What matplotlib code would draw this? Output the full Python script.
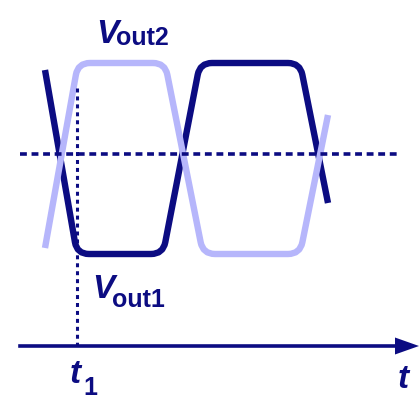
import matplotlib.pyplot as plt
import numpy as np
from matplotlib.path import Path
from matplotlib.patches import PathPatch, FancyArrow

# waveform knots (time position, level) in drawing units
vout1_t = [45, 77, 163, 200, 300, 328]
vout1_v = [70, 254, 254, 63, 63, 203]
vout2_t = [45, 78, 165, 203, 300, 328]
vout2_v = [248, 63, 63, 254, 254, 115]

mid_level = 154
t1 = 77
axis_level = 346

navy = '#0c0c82'
light = '#b6b6fb'


def rounded_path(xs, ys, r=12):
    pts = np.column_stack([xs, ys]).astype(float)
    verts = [pts[0]]
    codes = [Path.MOVETO]
    for i in range(1, len(pts) - 1):
        p, a, b = pts[i], pts[i - 1], pts[i + 1]
        ua = (a - p) / np.linalg.norm(a - p)
        ub = (b - p) / np.linalg.norm(b - p)
        verts += [p + r * ua, p, p + r * ub]
        codes += [Path.LINETO, Path.CURVE3, Path.CURVE3]
    verts.append(pts[-1])
    codes.append(Path.LINETO)
    return Path(verts, codes)


fig = plt.figure(figsize=(4.19, 3.97), dpi=100)
ax = fig.add_axes([0, 0, 1, 1])
ax.set_xlim(0, 419)
ax.set_ylim(397, 0)
ax.axis('off')

# reference lines
ax.plot([20, 400], [mid_level, mid_level], color=navy, lw=2.6,
        dashes=(1.9, 1.3), solid_capstyle='butt')
ax.plot([t1, t1], [88, axis_level], color=navy, lw=2.2,
        dashes=(1.3, 1.3), solid_capstyle='butt')

# outputs
ax.add_patch(PathPatch(rounded_path(vout1_t, vout1_v), fill=False,
                       edgecolor=navy, lw=4.6, capstyle='butt', joinstyle='round'))
ax.add_patch(PathPatch(rounded_path(vout2_t, vout2_v), fill=False,
                       edgecolor=light, lw=4.6, capstyle='butt', joinstyle='round'))

# time axis
ax.plot([20, 398], [axis_level, axis_level], color=navy, lw=2.6)
ax.add_patch(FancyArrow(395, axis_level, 24, 0, width=0, head_width=17,
                        head_length=24, length_includes_head=True,
                        color=navy, lw=0))

font = 'Liberation Sans'
ax.text(96, 43, 'V', color=navy, fontsize=24, fontweight='bold',
        fontstyle='italic', family=font, va='baseline')
ax.text(116, 45, 'out2', color=navy, fontsize=18, fontweight='bold',
        family=font, va='baseline')
ax.text(92, 298, 'V', color=navy, fontsize=24, fontweight='bold',
        fontstyle='italic', family=font, va='baseline')
ax.text(112, 307, 'out1', color=navy, fontsize=18, fontweight='bold',
        family=font, va='baseline')
ax.text(70, 383, 't', color=navy, fontsize=24, fontweight='bold',
        fontstyle='italic', family=font, va='baseline')
ax.text(83, 395, '1', color=navy, fontsize=18, fontweight='bold',
        family=font, va='baseline')
ax.text(398, 388, 't', color=navy, fontsize=24, fontweight='bold',
        fontstyle='italic', family=font, va='baseline')

fig.savefig('out.png', dpi=100)
